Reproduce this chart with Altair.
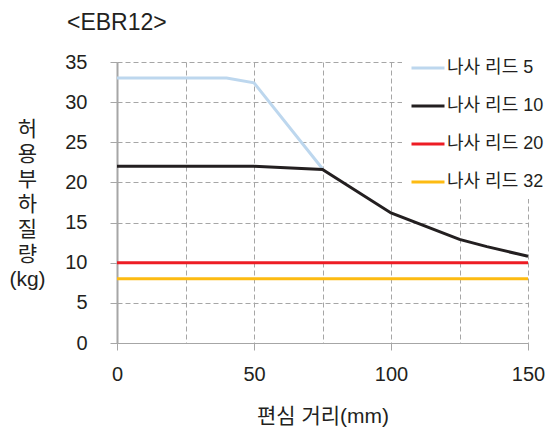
import altair as alt
import pandas as pd

series = ["나사 리드 5", "나사 리드 10", "나사 리드 20", "나사 리드 32"]
colors = ["#bdd7ee", "#231f20", "#ed1c24", "#fdbb12"]

x_lead5 = [0, 40, 50, 75]
y_lead5 = [33.0, 33.0, 32.4, 21.7]
x_lead10 = [0, 50, 75, 100, 125, 135, 150]
y_lead10 = [22.0, 22.0, 21.6, 16.2, 12.9, 12.0, 10.8]
x_lead20 = [0, 150]
y_lead20 = [10, 10]
x_lead32 = [0, 150]
y_lead32 = [8, 8]

rows = []
for name, xs, ys in [
    (series[0], x_lead5, y_lead5),
    (series[1], x_lead10, y_lead10),
    (series[2], x_lead20, y_lead20),
    (series[3], x_lead32, y_lead32),
]:
    for i, (a, b) in enumerate(zip(xs, ys)):
        rows.append({"series": name, "x": a, "y": b, "i": i})
df = pd.DataFrame(rows)

FONT = "Liberation Sans, Noto Sans CJK KR"
GRAY = "#a6a6a6"

chart = (
    alt.Chart(df)
    .mark_line(strokeWidth=3)
    .encode(
        x=alt.X(
            "x:Q",
            scale=alt.Scale(domain=[0, 150], nice=False),
            axis=alt.Axis(
                values=list(range(0, 151, 25)),
                labelExpr="datum.value % 50 == 0 ? datum.label : ''",
                tickOpacity={"condition": {"test": "datum.value % 50 == 0", "value": 1}, "value": 0},
                labelFlush=False,
                title="편심 거리(mm)",
                titleFontSize=21,
                titleFontWeight="normal",
                titlePadding=21,
                labelFontSize=20,
                labelPadding=14,
                grid=True,
                gridDash=[5, 3],
                gridColor=GRAY,
                domainColor=GRAY,
                tickColor=GRAY,
                tickSize=7,
            ),
        ),
        y=alt.Y(
            "y:Q",
            scale=alt.Scale(domain=[0, 35], nice=False),
            axis=alt.Axis(
                values=list(range(0, 36, 5)),
                title=["허", "용", "부", "하", "질", "량", "(kg)"],
                titleAngle=0,
                titleAlign="center",
                titleBaseline="top",
                titleX=-90,
                titleY=56,
                titleLineHeight=25,
                titleFontSize=21,
                titleFontWeight="normal",
                labelFontSize=20,
                labelPadding=23,
                grid=True,
                gridDash=[5, 3],
                gridColor=GRAY,
                domainColor=GRAY,
                domainWidth=2,
                tickColor=GRAY,
                tickSize=7,
            ),
        ),
        color=alt.Color(
            "series:N",
            scale=alt.Scale(domain=series, range=colors),
            legend=alt.Legend(
                title=None,
                orient="none",
                legendX=285,
                legendY=-20,
                fillColor="white",
                padding=8,
                symbolType="stroke",
                symbolSize=1089,
                symbolStrokeWidth=3,
                labelFontSize=18,
                labelOffset=1,
                rowPadding=11,
            ),
        ),
        order="i:Q",
    )
    .properties(
        width=411,
        height=281,
        autosize=alt.AutoSizeParams(type="none"),
        padding={"left": 109, "top": 54, "right": 20, "bottom": 87},
        title=alt.TitleParams(
            "<EBR12>", anchor="start", frame="group", dx=-50, offset=7,
            fontSize=23, fontWeight="normal", font=FONT, color="#231f20",
        ),
    )
    .configure(font=FONT)
    .configure_axis(labelColor="#231f20", titleColor="#231f20", labelFont=FONT, titleFont=FONT)
    .configure_legend(labelColor="#231f20", labelFont=FONT)
    .configure_view(stroke=None)
)

chart.save("out.html", embed_options={"renderer": "svg", "actions": False})
